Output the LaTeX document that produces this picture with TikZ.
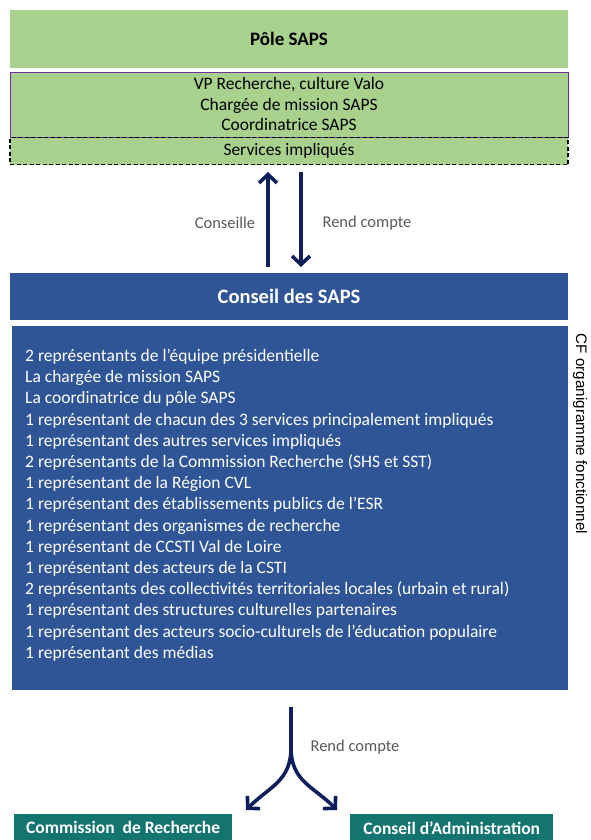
\documentclass[tikz,border=0pt]{standalone}
\usepackage{fontspec}
\setmainfont{Carlito}
\newfontfamily\arialf{Liberation Sans}
\usetikzlibrary{arrows.meta}
\definecolor{pgreen}{HTML}{A9D18E}
\definecolor{pblue}{HTML}{2F5597}
\definecolor{pteal}{HTML}{137470}
\definecolor{pnavy}{HTML}{0F1F5C}
\definecolor{ppurple}{HTML}{7030A0}
\definecolor{pgray}{HTML}{595959}
\tikzset{
  greenbox/.style={fill=pgreen, draw=none, minimum width=558pt, inner sep=0pt},
  bluebox/.style={fill=pblue, draw=none, inner sep=0pt, text=white},
  tealbox/.style={fill=pteal, draw=none, inner sep=0pt, text=white, font=\fontsize{17.5}{20}\selectfont\bfseries, minimum height=27pt},
  navyarrow/.style={draw=pnavy, line width=3.6pt, -{Straight Barb[length=8.5pt,width=18pt]}},
  lbl/.style={text=pgray, font=\fontsize{16.5}{19}\selectfont},
}
\begin{document}
\begin{tikzpicture}[x=1pt,y=-1pt]
\useasboundingbox (0,0) rectangle (590,840);
% Pôle SAPS
\node[greenbox, minimum height=58pt, font=\fontsize{19}{22}\selectfont\bfseries] (pole) at (289,39) {Pôle SAPS};
\node[greenbox, draw=ppurple, line width=0.9pt, minimum height=65pt, anchor=north] (members) at (289,72) {};
\node[font=\fontsize{17.5}{20.5}\selectfont, align=center, anchor=north, inner sep=0pt] (mtext) at (289,77.5) {VP Recherche, culture Valo\\Chargée de mission SAPS\\Coordinatrice SAPS};
\node[greenbox, draw=black, dashed, line width=1.1pt, dash pattern=on 4pt off 2.5pt, minimum height=27pt, anchor=north, font=\fontsize{17.5}{20}\selectfont] (serv) at (289,137) {Services impliqués};
% Conseil des SAPS
\node[bluebox, minimum width=558pt, minimum height=47pt, font=\fontsize{20.5}{24}\selectfont\bfseries] (conseil) at (289,296.5) {Conseil des SAPS};
\node[bluebox, minimum width=556pt, minimum height=364pt, anchor=north west] (members2) at (12,326) {};
\node[text=white, anchor=north west, align=left, inner sep=0pt, font=\fontsize{17.5}{21.2}\selectfont] (list) at (25,349) {2 représentants de l'équipe présidentielle\\
La chargée de mission SAPS\\
La coordinatrice du pôle SAPS\\
1 représentant de chacun des 3 services principalement impliqués\\
1 représentant des autres services impliqués\\
2 représentants de la Commission Recherche (SHS et SST)\\
1 représentant de la Région CVL\\
1 représentant des établissements publics de l'ESR\\
1 représentant des organismes de recherche\\
1 représentant de CCSTI Val de Loire\\
1 représentant des acteurs de la CSTI\\
2 représentants des collectivités territoriales locales (urbain et rural)\\
1 représentant des structures culturelles partenaires\\
1 représentant des acteurs socio-culturels de l'éducation populaire\\
1 représentant des médias};
\node[rotate=-90, font=\arialf\fontsize{15.2}{17}\selectfont, inner sep=0pt] (cf) at (580,434) {CF organigramme fonctionnel};
% top arrows
\coordinate (upS) at (268,267);
\coordinate (upE) at (268,172);
\coordinate (dnS) at (301,172);
\coordinate (dnE) at (301,267);
\draw[navyarrow] (upS) -- (upE);
\draw[navyarrow] (dnS) -- (dnE);
\node[lbl] (l1) at (225,223) {Conseille};
\node[lbl] (l2) at (367,223) {Rend compte};
% bottom
\node[tealbox, minimum width=218pt, anchor=north west] (cr) at (14,814) {Commission~ de Recherche};
\node[tealbox, minimum width=203pt, anchor=north west] (ca) at (350,814) {Conseil d'Administration};
\coordinate (stem) at (291,707);
\coordinate (fork) at (291,748);
\coordinate (tl) at (246,810);
\coordinate (tr) at (337,810);
\draw[navyarrow] (stem) -- (fork) to[out=-90,in=45,looseness=1.1] (tl);
\draw[navyarrow] (fork) to[out=-90,in=135,looseness=1.1] (tr);
\node[lbl] (l3) at (355,747) {Rend compte};
\end{tikzpicture}
\end{document}
